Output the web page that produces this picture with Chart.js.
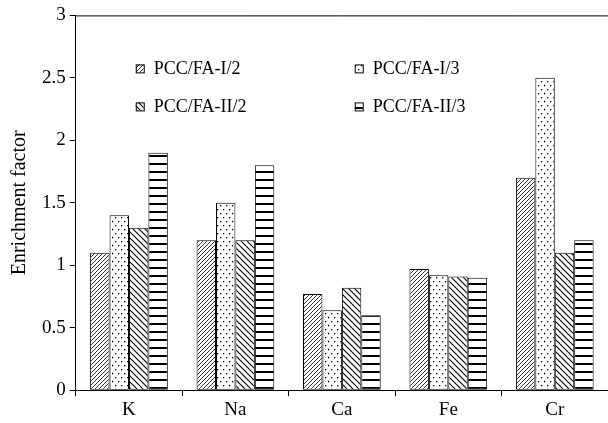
<!DOCTYPE html>
<html>
<head>
<meta charset="utf-8">
<script src="https://cdn.jsdelivr.net/npm/chart.js@4.4.1/dist/chart.umd.min.js"></script>
<style>
  html, body { margin: 0; padding: 0; background: #fff; }
  #wrap { width: 608px; height: 423px; }
</style>
</head>
<body>
<div id="wrap"><canvas id="myChart"></canvas></div>
<script>
// categorias e séries
const elementos = ['K', 'Na', 'Ca', 'Fe', 'Cr'];
const series_nomes = ['PCC/FA-I/2', 'PCC/FA-I/3', 'PCC/FA-II/2', 'PCC/FA-II/3'];
const fa1_2 = [1.1, 1.2, 0.77, 0.97, 1.7];
const fa1_3 = [1.4, 1.5, 0.64, 0.92, 2.5];
const fa2_2 = [1.3, 1.2, 0.82, 0.91, 1.1];
const fa2_3 = [1.9, 1.8, 0.60, 0.90, 1.2];
const y_ticks = [0, 0.5, 1, 1.5, 2, 2.5, 3];

const FONTE = '"Liberation Serif", "Times New Roman", serif';

// padrões de preenchimento (hachuras)
function padrao(tipo) {
    const c = document.createElement('canvas');
    const g = c.getContext('2d');
    if (tipo === 'diag') {
        c.width = 4; c.height = 4;
        g.fillStyle = '#fff'; g.fillRect(0, 0, 4, 4);
        g.strokeStyle = '#000'; g.lineWidth = 0.8;
        g.beginPath();
        g.moveTo(0, 4); g.lineTo(4, 0);
        g.moveTo(-1, 1); g.lineTo(1, -1);
        g.moveTo(3, 5); g.lineTo(5, 3);
        g.stroke();
    } else if (tipo === 'pontos') {
        c.width = 6; c.height = 8;
        g.fillStyle = '#fff'; g.fillRect(0, 0, 6, 8);
        g.fillStyle = '#000';
        g.fillRect(1, 1, 1.3, 1.3);
        g.fillRect(4, 5, 1.3, 1.3);
    } else if (tipo === 'contra') {
        c.width = 6; c.height = 6;
        g.fillStyle = '#fff'; g.fillRect(0, 0, 6, 6);
        g.strokeStyle = '#000'; g.lineWidth = 1.1;
        g.beginPath();
        g.moveTo(0, 0); g.lineTo(6, 6);
        g.moveTo(-1, 5); g.lineTo(1, 7);
        g.moveTo(5, -1); g.lineTo(7, 1);
        g.stroke();
    } else {
        c.width = 8; c.height = 8;
        g.fillStyle = '#fff'; g.fillRect(0, 0, 8, 8);
        g.fillStyle = '#000'; g.fillRect(0, 3, 8, 2);
    }
    return g.createPattern(c, 'repeat');
}

const tipos = ['diag', 'pontos', 'contra', 'horiz'];
const valores = [fa1_2, fa1_3, fa2_2, fa2_3];

// legenda desenhada dentro da área do gráfico, em duas colunas
const legendaPlugin = {
    id: 'legendaInterna',
    afterDraw(chart) {
        const ctx = chart.ctx;
        const a = chart.chartArea;
        const colX = [a.left + 60, a.left + 279];
        const rowY = [a.top + 53, a.top + 91];
        ctx.save();
        ctx.font = '18px ' + FONTE;
        ctx.textBaseline = 'middle';
        chart.data.datasets.forEach((ds, i) => {
            const x = colX[i % 2];
            const y = rowY[Math.floor(i / 2)];
            ctx.fillStyle = ds.backgroundColor;
            ctx.fillRect(x, y - 4, 8, 8);
            ctx.strokeStyle = '#000';
            ctx.lineWidth = 1;
            ctx.strokeRect(x + 0.5, y - 3.5, 8, 8);
            ctx.fillStyle = '#000';
            ctx.fillText(ds.label, x + 18, y + 1);
        });
        // linha superior do quadro
        ctx.beginPath();
        ctx.strokeStyle = '#000';
        ctx.moveTo(a.left, a.top + 0.5);
        ctx.lineTo(chart.width, a.top + 0.5);
        ctx.stroke();
        ctx.restore();
    }
};

const ctx1 = document.getElementById('myChart');
new Chart(ctx1, {
    type: 'bar',
    data: {
        labels: elementos,
        datasets: series_nomes.map((nome, i) => ({
            label: nome,
            data: valores[i],
            backgroundColor: padrao(tipos[i]),
            borderColor: '#000',
            borderWidth: 1,
            borderSkipped: false,
            categoryPercentage: 0.73,
            barPercentage: 1.0
        }))
    },
    options: {
        responsive: true,
        maintainAspectRatio: false,
        animation: false,
        layout: { padding: { top: 3, right: 0, left: 4, bottom: 0 } },
        plugins: {
            legend: { display: false },
            tooltip: { enabled: false }
        },
        scales: {
            y: {
                min: 0,
                max: 3,
                afterBuildTicks: axis => { axis.ticks = y_ticks.map(v => ({ value: v })); },
                border: { color: '#000', width: 1 },
                grid: { drawOnChartArea: false, color: '#000', tickLength: 6 },
                ticks: {
                    color: '#000',
                    font: { family: FONTE, size: 19 },
                    padding: 4,
                    callback: v => String(v)
                },
                title: {
                    display: true,
                    text: 'Enrichment factor',
                    color: '#000',
                    font: { family: FONTE, size: 20 },
                    padding: { bottom: 6 }
                }
            },
            x: {
                border: { color: '#000', width: 1 },
                grid: { drawOnChartArea: false, color: '#000', tickLength: 6, offset: true },
                ticks: { color: '#000', font: { family: FONTE, size: 19 }, padding: 2 }
            }
        }
    },
    plugins: [legendaPlugin]
});
</script>
</body>
</html>
